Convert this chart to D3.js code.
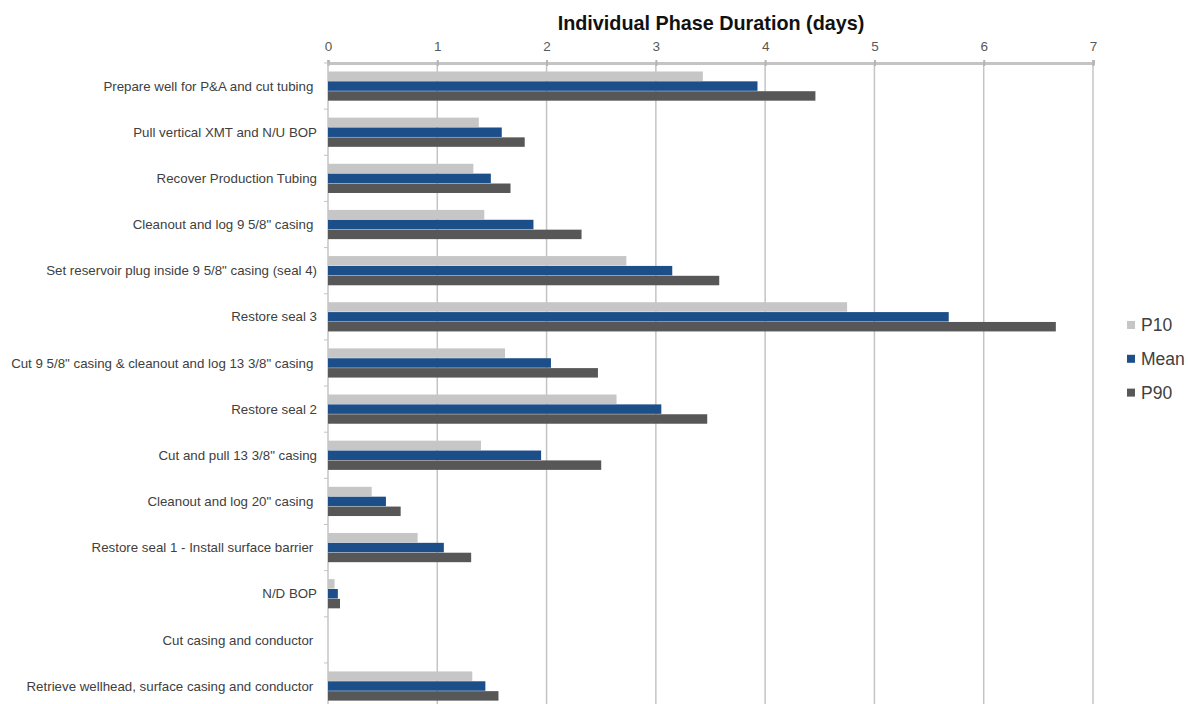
<!DOCTYPE html>
<html>
<head>
<meta charset="utf-8">
<script src="https://cdn.jsdelivr.net/npm/d3@7/dist/d3.min.js"></script>
<style>
  html, body { margin: 0; padding: 0; background: #fff; overflow: hidden; }
  svg { display: block; font-family: "Liberation Sans", Arial, sans-serif; }
</style>
</head>
<body>
<svg id="chart" width="1188" height="704"></svg>
<script>
// Well P&A phases, top to bottom
const phases = [
  "Prepare well for P&A and cut tubing ",
  "Pull vertical XMT and N/U BOP",
  "Recover Production Tubing",
  "Cleanout and log 9 5/8\" casing ",
  "Set reservoir plug inside 9 5/8\" casing (seal 4)",
  "Restore seal 3",
  "Cut 9 5/8\" casing & cleanout and log 13 3/8\" casing ",
  "Restore seal 2",
  "Cut and pull 13 3/8\" casing",
  "Cleanout and log 20\" casing ",
  "Restore seal 1 - Install surface barrier ",
  "N/D BOP",
  "Cut casing and conductor ",
  "Retrieve wellhead, surface casing and conductor "
];

// Duration in days per phase
const p10  = [3.43, 1.38, 1.33, 1.43, 2.73, 4.75, 1.62, 2.64, 1.40, 0.40, 0.82, 0.06, 0, 1.32];
const mean = [3.93, 1.59, 1.49, 1.88, 3.15, 5.68, 2.04, 3.05, 1.95, 0.53, 1.06, 0.09, 0, 1.44];
const p90  = [4.46, 1.80, 1.67, 2.32, 3.58, 6.66, 2.47, 3.47, 2.50, 0.665, 1.31, 0.11, 0, 1.56];

const seriesNames = ["P10", "Mean", "P90"];
const seriesColors = ["#c6c6c6", "#1c4e8a", "#575757"];
const xTicks = [0, 1, 2, 3, 4, 5, 6, 7];

const rows = phases.map((p, i) => ({ phase: p, values: [p10[i], mean[i], p90[i]] }));

const svg = d3.select("#chart");
const plotLeft = 328, plotRight = 1093, plotTop = 63, step = 46.15;
const plotBottom = plotTop + step * phases.length;

const x = d3.scaleLinear().domain([0, 7]).range([plotLeft, plotRight]);
const y = d3.scaleBand().domain(phases).range([plotTop, plotBottom]).paddingInner(0.35).paddingOuter(0.175);
const ySub = d3.scaleBand().domain(seriesNames).range([0, y.bandwidth()]).padding(0.04);

// Title
svg.append("text")
  .attr("x", 711).attr("y", 30)
  .attr("text-anchor", "middle")
  .attr("font-size", 19.8).attr("font-weight", "bold").attr("fill", "#111")
  .text("Individual Phase Duration (days)");

// Vertical gridlines
svg.append("g").selectAll("line").data(xTicks.slice(1)).join("line")
  .attr("x1", d => x(d)).attr("x2", d => x(d))
  .attr("y1", plotTop).attr("y2", 704)
  .attr("stroke", "#c4c4c4").attr("stroke-width", 1.5);

// Top value axis
const xAxis = svg.append("g").attr("transform", `translate(0,${plotTop})`)
  .call(d3.axisTop(x).tickValues(xTicks).tickFormat(d3.format("d")).tickSize(3).tickPadding(9));
xAxis.select(".domain").attr("stroke", "#c4c4c4").attr("stroke-width", 3);
xAxis.selectAll(".tick line").attr("stroke", "#b4b4b4").attr("stroke-width", 2).attr("y2", 3).attr("y1", -3);
xAxis.selectAll(".tick text").attr("font-size", 13.5).attr("fill", "#595959")
  .attr("font-family", "\"Liberation Sans\", Arial, sans-serif");

// Left category axis
const yAxis = svg.append("g").attr("transform", `translate(${plotLeft},0)`);
yAxis.append("line").attr("x1", 0).attr("x2", 0).attr("y1", plotTop).attr("y2", 704)
  .attr("stroke", "#c4c4c4").attr("stroke-width", 1.5);
yAxis.selectAll("line.tk").data(d3.range(phases.length + 1)).join("line").attr("class", "tk")
  .attr("x1", -4).attr("x2", 0)
  .attr("y1", i => plotTop + i * step).attr("y2", i => plotTop + i * step)
  .attr("stroke", "#c4c4c4").attr("stroke-width", 1);
yAxis.selectAll("text").data(phases).join("text")
  .attr("x", -11).attr("y", d => y(d) + y.bandwidth() / 2)
  .attr("dy", "0.35em").attr("text-anchor", "end")
  .attr("font-size", 13.3).attr("fill", "#404040")
  .style("white-space", "pre")
  .text(d => d);

// Bars
const groups = svg.append("g").selectAll("g").data(rows).join("g")
  .attr("transform", d => `translate(0,${y(d.phase)})`);
groups.selectAll("rect").data(d => d.values.map((v, k) => ({ v, k }))).join("rect")
  .attr("x", x(0))
  .attr("y", d => ySub(seriesNames[d.k]))
  .attr("width", d => x(d.v) - x(0))
  .attr("height", ySub.bandwidth())
  .attr("fill", d => seriesColors[d.k]);

// Legend
const legend = svg.append("g").selectAll("g").data(seriesNames).join("g")
  .attr("transform", (d, i) => `translate(1127,${325 + i * 33.8})`);
legend.append("rect").attr("x", 0).attr("y", -4).attr("width", 8).attr("height", 8)
  .attr("fill", (d, i) => seriesColors[i]);
legend.append("text").attr("x", 14).attr("y", 0).attr("dy", "0.36em")
  .attr("font-size", 17.5).attr("fill", "#404040")
  .attr("font-family", "\"Liberation Sans\", Arial, sans-serif")
  .text(d => d);
</script>
</body>
</html>
